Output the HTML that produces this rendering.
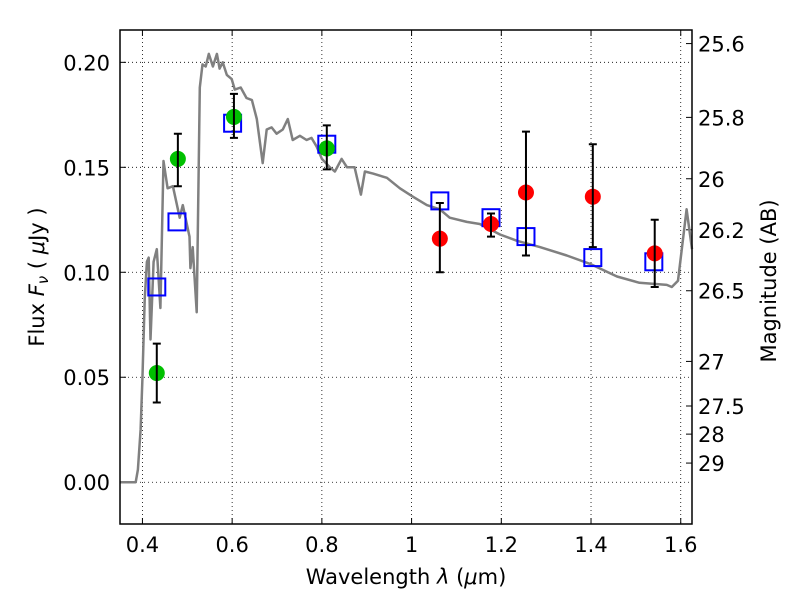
<!DOCTYPE html>
<html><head><meta charset="utf-8"><style>
html,body{margin:0;padding:0;background:#fff;}
svg{display:block;font-family:"DejaVu Sans","Liberation Sans",sans-serif;}
</style></head><body>
<svg id="chart" width="800" height="600" viewBox="0 0 800 600"></svg>
<script>
const specWave=[0.35,0.385,0.39,0.396,0.40,0.405,0.41,0.414,0.418,0.425,0.432,0.44,0.447,0.456,0.468,0.483,0.49,0.505,0.507,0.512,0.521,0.528,0.534,0.541,0.548,0.557,0.566,0.572,0.579,0.588,0.599,0.606,0.619,0.632,0.644,0.655,0.668,0.677,0.688,0.699,0.713,0.724,0.735,0.751,0.766,0.777,0.788,0.800,0.818,0.829,0.844,0.856,0.873,0.887,0.896,0.914,0.945,0.974,1.003,1.034,1.063,1.085,1.123,1.152,1.197,1.235,1.286,1.346,1.398,1.458,1.508,1.569,1.580,1.594,1.613,1.625];
const specFlux=[0.0,0.0,0.006,0.025,0.049,0.087,0.105,0.107,0.068,0.105,0.111,0.083,0.153,0.140,0.141,0.126,0.132,0.117,0.102,0.112,0.081,0.188,0.199,0.198,0.204,0.198,0.204,0.197,0.200,0.194,0.192,0.187,0.188,0.183,0.182,0.173,0.152,0.168,0.169,0.166,0.168,0.173,0.163,0.165,0.163,0.164,0.160,0.154,0.150,0.148,0.154,0.150,0.150,0.137,0.148,0.147,0.145,0.140,0.136,0.132,0.130,0.126,0.124,0.123,0.118,0.115,0.112,0.108,0.104,0.098,0.095,0.094,0.093,0.096,0.130,0.111];
const greenWave=[0.432,0.479,0.604,0.811];
const greenFlux=[0.052,0.154,0.174,0.159];
const greenLo=[0.038,0.141,0.164,0.149];
const greenHi=[0.066,0.166,0.185,0.170];
const redWave=[1.063,1.177,1.255,1.404,1.542];
const redFlux=[0.116,0.123,0.138,0.136,0.109];
const redLo=[0.100,0.117,0.108,0.112,0.093];
const redHi=[0.133,0.128,0.167,0.161,0.125];
const modelWave=[0.432,0.477,0.601,0.811,1.063,1.177,1.255,1.404,1.540];
const modelFlux=[0.093,0.124,0.171,0.161,0.134,0.126,0.117,0.107,0.105];
const xTicks=[0.4,0.6,0.8,1.0,1.2,1.4,1.6];
const xTickLabels=["0.4","0.6","0.8","1","1.2","1.4","1.6"];
const yTicks=[0.0,0.05,0.10,0.15,0.20];
const yTickLabels=["0.00","0.05","0.10","0.15","0.20"];
const magTicks=[25.6,25.8,26,26.2,26.5,27,27.5,28,29];
const magTickLabels=["25.6","25.8","26","26.2","26.5","27","27.5","28","29"];

const L=120,R=692,T=30,B=524;
const X0=0.35,X1=1.6251,Y0=-0.0199,Y1=0.2154;
const sx=v=>L+(v-X0)/(X1-X0)*(R-L);
const sy=v=>B-(v-Y0)/(Y1-Y0)*(B-T);
const NS="http://www.w3.org/2000/svg";
const svg=document.getElementById('chart');
function mk(tag,attrs,parent){const e=document.createElementNS(NS,tag);for(const k in attrs)e.setAttribute(k,attrs[k]);(parent||svg).appendChild(e);return e;}

xTicks.forEach((v,i)=>{
  const g=mk('line',{x1:sx(v),x2:sx(v),y1:T,y2:B,stroke:'#000','stroke-width':0.8,'stroke-dasharray':'1,3'});
  
  
  mk('line',{x1:sx(v),x2:sx(v),y1:B,y2:B-6,stroke:'#000','stroke-width':1});
  mk('line',{x1:sx(v),x2:sx(v),y1:T,y2:T+6,stroke:'#000','stroke-width':1});
  const t=mk('text',{x:sx(v),y:B+28,'font-size':21,'text-anchor':'middle'});
  t.textContent=xTickLabels[i];
  
  
});
yTicks.forEach((v,i)=>{
  const g=mk('line',{x1:L,x2:R,y1:sy(v),y2:sy(v),stroke:'#000','stroke-width':0.8,'stroke-dasharray':'1,3'});
  
  
  mk('line',{x1:L,x2:L+6,y1:sy(v),y2:sy(v),stroke:'#000','stroke-width':1});
  const t=mk('text',{x:L-10,y:sy(v)+8,'font-size':21,'text-anchor':'end'});
  t.textContent=yTickLabels[i];
  
  
});
magTicks.forEach((m,i)=>{
  const f=Math.pow(10,(23.9-m)/2.5);
  mk('line',{x1:R,x2:R-6,y1:sy(f),y2:sy(f),stroke:'#000','stroke-width':1});
  const t=mk('text',{x:R+6,y:sy(f)+8,'font-size':21});
  t.textContent=magTickLabels[i];
  
  
});

let d='';
specWave.forEach((w,i)=>{d+=(i?'L':'M')+sx(w).toFixed(1)+','+sy(specFlux[i]).toFixed(1);});
const sp=mk('path',{d:d,fill:'none',stroke:'#808080','stroke-width':2.5,'stroke-linejoin':'round'});



modelWave.forEach((w,i)=>{
  const r=mk('rect',{x:sx(w)-8.5,y:sy(modelFlux[i])-8.5,width:17,height:17,fill:'none',stroke:'#0000ff','stroke-width':2});
  
  
});

function pts(ws,fs,lo,hi,col,name){
  ws.forEach((w,i)=>{
    const c=mk('circle',{cx:sx(w),cy:sy(fs[i]),r:8,fill:col});
    
    
  });
  ws.forEach((w,i)=>{
    const x=sx(w);
    const e=mk('path',{d:`M${x},${sy(lo[i])}L${x},${sy(hi[i])}M${x-4},${sy(lo[i])}L${x+4},${sy(lo[i])}M${x-4},${sy(hi[i])}L${x+4},${sy(hi[i])}`,stroke:'#000','stroke-width':2,fill:'none'});
    
    
  });
}
pts(greenWave,greenFlux,greenLo,greenHi,'#00c000','hst-data-point');
pts(redWave,redFlux,redLo,redHi,'#ff0000','ir-data-point');

const fr=mk('rect',{x:L,y:T,width:R-L,height:B-T,fill:'none',stroke:'#000','stroke-width':1.5});



const xl=mk('text',{x:(L+R)/2,y:584,'font-size':21,'text-anchor':'middle'});
xl.innerHTML='Wavelength  <tspan font-style="italic">λ</tspan> (<tspan font-style="italic">μ</tspan>m)';


const yl=mk('text',{x:0,y:0,'font-size':21,'text-anchor':'middle',transform:`translate(44,${(T+B)/2}) rotate(-90)`});
yl.innerHTML='Flux  <tspan font-style="italic">F</tspan><tspan font-size="15" dy="4" font-style="italic">ν</tspan><tspan dy="-4">  ( <tspan font-style="italic">μ</tspan>Jy )</tspan>';


const ml=mk('text',{x:0,y:0,'font-size':21,'text-anchor':'middle',transform:`translate(776,${(T+B)/2+4}) rotate(-90)`});
ml.textContent='Magnitude (AB)';


</script>
</body></html>
